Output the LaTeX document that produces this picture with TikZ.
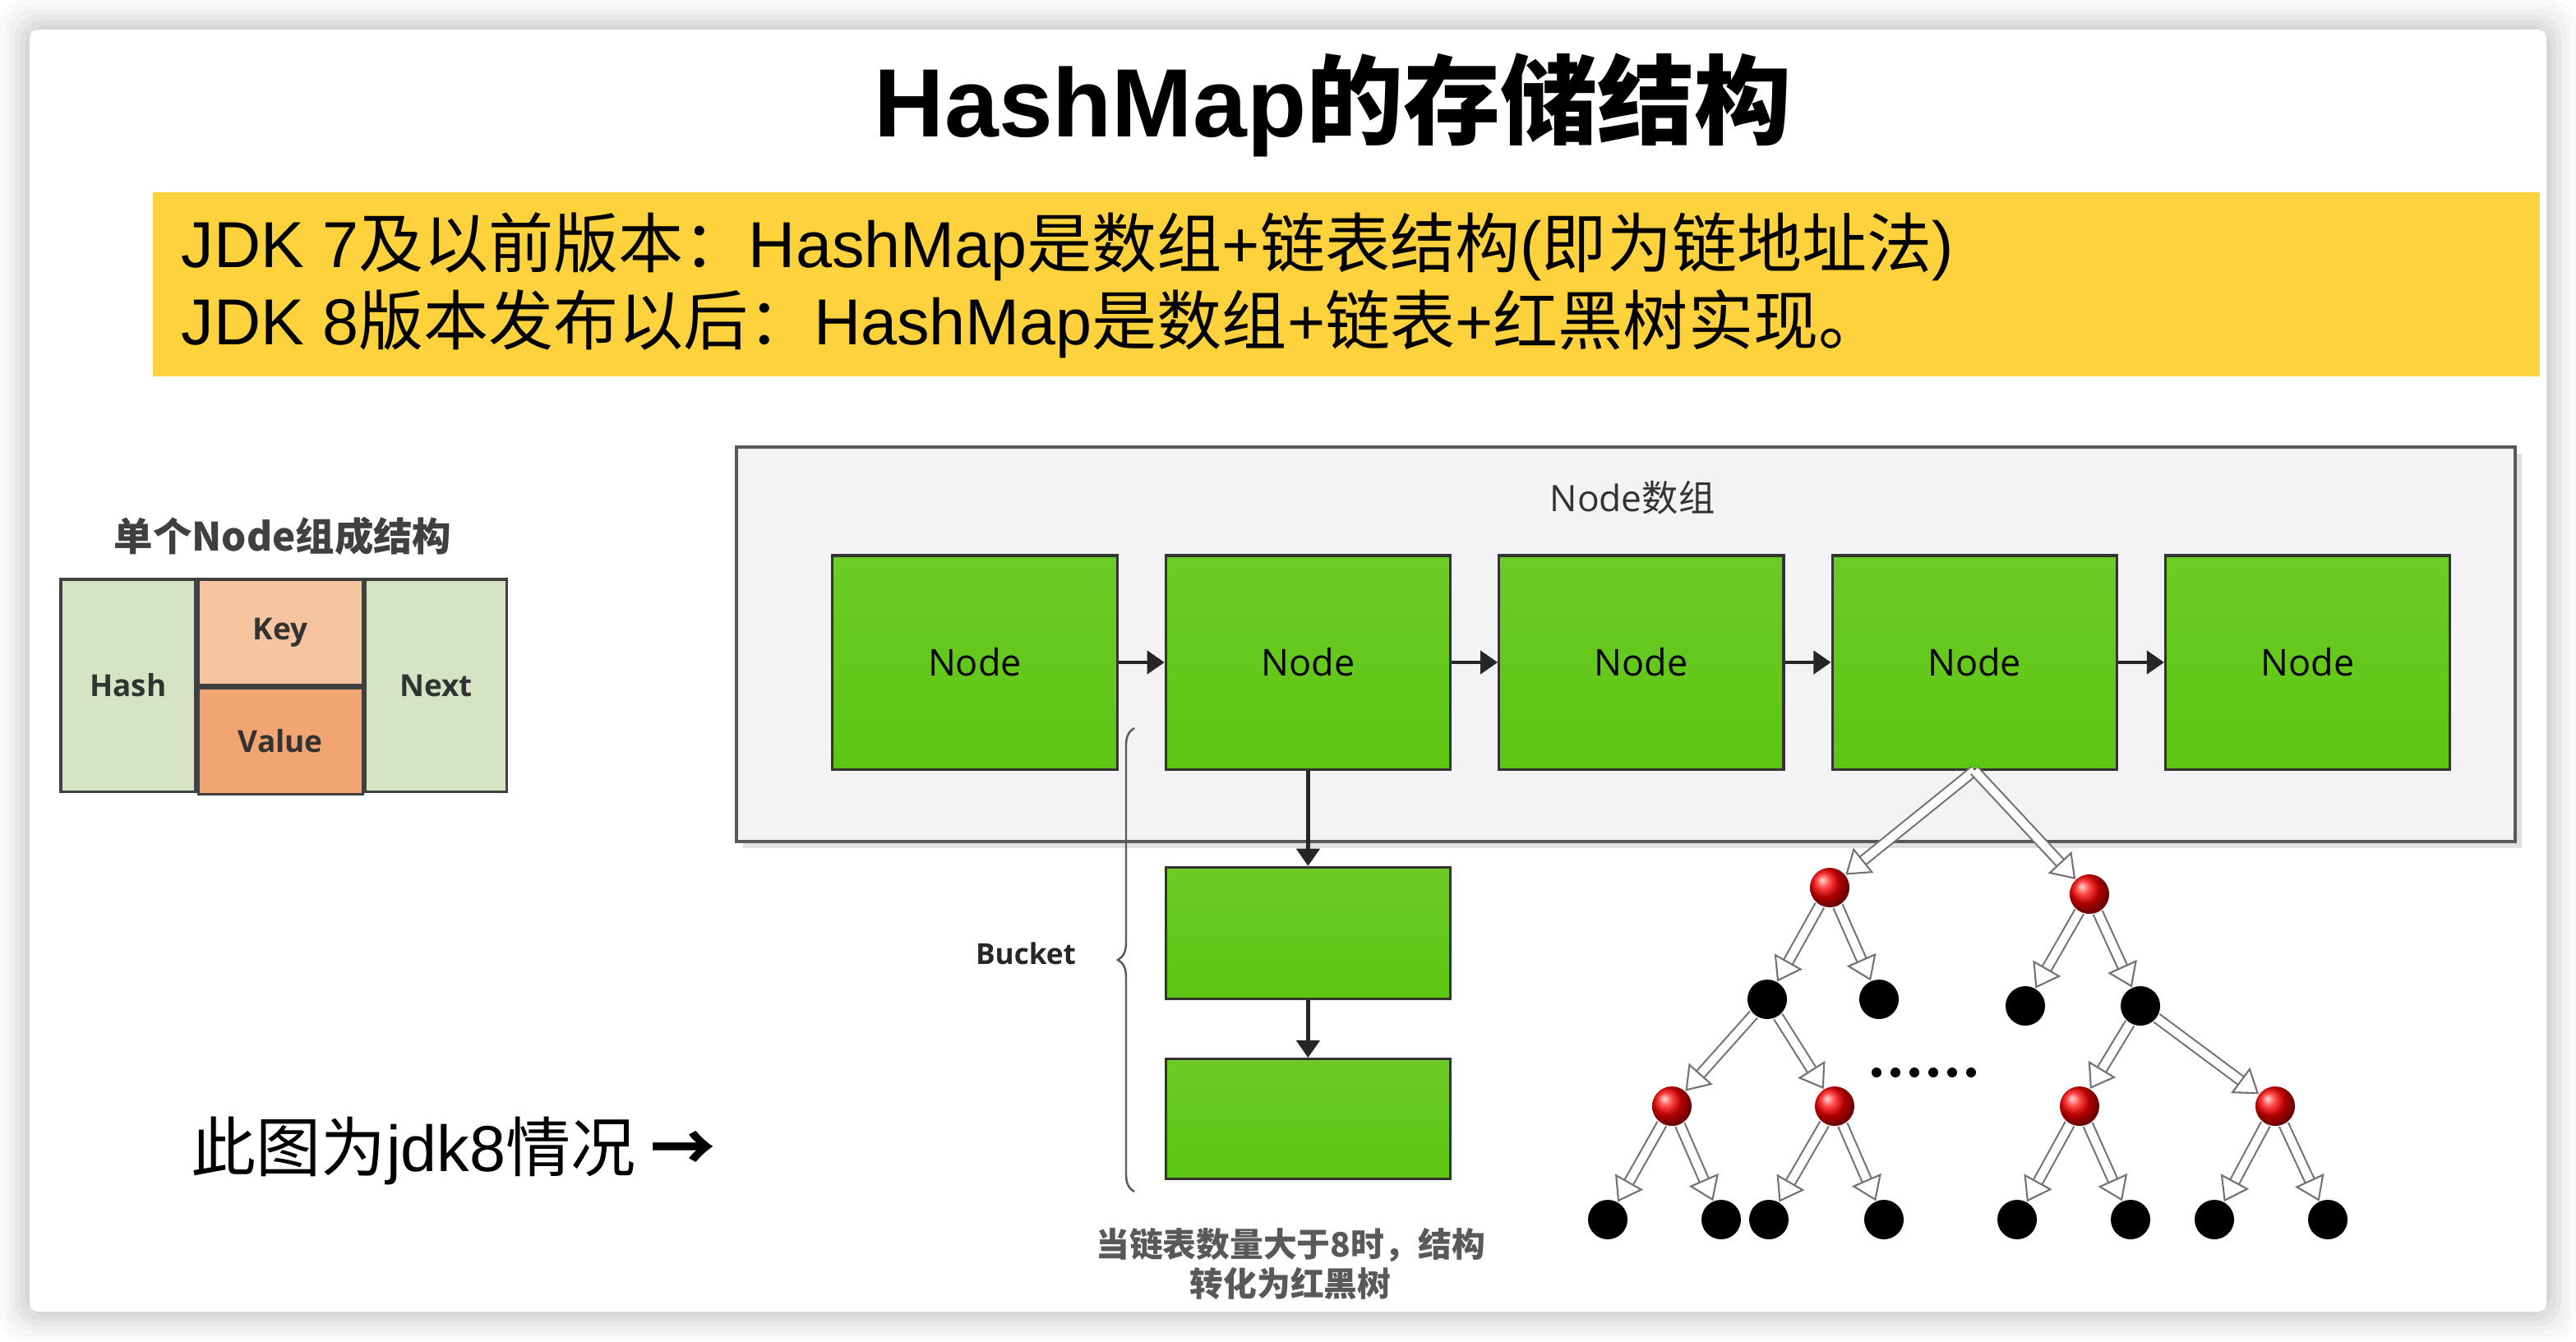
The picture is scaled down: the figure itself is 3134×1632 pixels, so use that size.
\documentclass[tikz,border=0pt]{standalone}
\usepackage{fontspec}
\setmainfont{Liberation Sans}
\newfontfamily\cjk{Noto Sans CJK SC}
\newfontfamily\lbl{Open Sans}
\usetikzlibrary{positioning,arrows.meta,decorations.pathreplacing,shadings}
\newcommand{\zhtxt}[1]{{\cjk #1}}
\definecolor{hmyellow}{HTML}{FDD23C}
\definecolor{hmgreen}{HTML}{5DC512}
\definecolor{hmgreentop}{HTML}{6CCB26}
\definecolor{hmsage}{HTML}{D6E3C5}
\definecolor{hmkey}{HTML}{F7C4A0}
\definecolor{hmvalue}{HTML}{F2A570}
\definecolor{hmframe}{HTML}{F3F3F5}

\begin{document}
\begin{tikzpicture}[x=0.01cm,y=-0.01cm,
    gnode/.style={draw=black!80,line width=0.9pt,top color=hmgreentop,bottom color=hmgreen,minimum width=3.46cm,minimum height=2.6cm,inner sep=0pt,font=\lbl\fontsize{12.8}{15}\selectfont},
    cell/.style={draw=black!75,line width=0.9pt,inner sep=0pt,text=black!80,font=\lbl\bfseries\fontsize{10.5}{12}\selectfont},
    link/.style={-{Triangle[length=6pt,width=8pt]},line width=1.2pt,draw=black!85},
    rnode/.style={circle,minimum size=0.48cm,inner sep=0pt,shading=ball,ball color=red},
    bnode/.style={circle,minimum size=0.48cm,inner sep=0pt,fill=black},
    rbarrow/.style={draw=black!55,line width=0.6pt,double=white,double distance=2.8pt,-{Triangle[open,length=8pt,width=11pt]}}]
  \useasboundingbox (0,0) rectangle (3134,1632);
  % card with its shadow
  \fill[white] (0,0) rectangle (3134,1632);
  \foreach \s/\c in {36/2,30/4,24/6,18/9,12/12,6/16}
    \fill[black!\c,rounded corners=0.3cm] (36-\s,36-\s) rectangle (3098+\s,1596+\s);
  \fill[white,rounded corners=0.1cm] (36,36) rectangle (3098,1596);

  % title and notes
  \node (title) at (1622,128) {\bfseries\fontsize{33.6}{40}\selectfont HashMap\zhtxt{的存储结构}};
  \fill[hmyellow] (186,234) rectangle (3090,458);
  \node[anchor=west,inner sep=0pt] (jdk7) at (220,300) {\fontsize{22.5}{27}\selectfont JDK 7\zhtxt{及以前版本：}HashMap\zhtxt{是数组}+\zhtxt{链表结构}(\zhtxt{即为链地址法})};
  \node[anchor=west,inner sep=0pt] (jdk8) at (220,394) {\fontsize{22.5}{27}\selectfont JDK 8\zhtxt{版本发布以后：}HashMap\zhtxt{是数组}+\zhtxt{链表}+\zhtxt{红黑树实现。}};

  % single node
  \node[text=black!75] (single) at (344,652) {\cjk\bfseries\fontsize{13.5}{16}\selectfont 单个Node组成结构};
  \node[cell,fill=hmsage,minimum width=1.64cm,minimum height=2.58cm] (hash) at (156,834) {Hash};
  \node[cell,fill=hmkey,minimum width=2.0cm,minimum height=1.29cm,anchor=north west] (key) at (hash.north east) {Key};
  \node[cell,fill=hmvalue,minimum width=2.0cm,minimum height=1.29cm,anchor=north west] (value) at (key.south west) {Value};
  \node[cell,fill=hmsage,minimum width=1.72cm,minimum height=2.58cm,anchor=north west] (next) at (key.north east) {Next};
  \node[anchor=west,inner sep=0pt] (jdk8pic) at (232,1400) {\cjk\fontsize{22.5}{27}\selectfont 此图为{\rmfamily jdk8}情况 {\bfseries →}};

  % node array
  \fill[black!12] (904,552) rectangle (3068,1032);
  \draw[draw=black!65,line width=0.9pt,fill=hmframe] (896,544) rectangle (3060,1024);
  \node[text=black!80] (arraylbl) at (1986,606) {\lbl\fontsize{12.6}{15}\selectfont Node\zhtxt{数组}};
  \node[gnode] (n1) at (1186,806) {Node};
  \node[gnode,right=0.56cm of n1] (n2) {Node};
  \node[gnode,right=0.56cm of n2] (n3) {Node};
  \node[gnode,right=0.56cm of n3] (n4) {Node};
  \node[gnode,right=0.56cm of n4] (n5) {Node};
  \draw[link] (n1) -- (n2);
  \draw[link] (n2) -- (n3);
  \draw[link] (n3) -- (n4);
  \draw[link] (n4) -- (n5);

  % bucket
  \node[gnode,minimum height=1.6cm,below=1.16cm of n2] (b1) {};
  \node[gnode,minimum height=1.46cm,below=0.7cm of b1] (b2) {};
  \draw[link] (n2) -- (b1);
  \draw[link] (b1) -- (b2);
  \draw[draw=black!65,line width=0.7pt,decorate,decoration={brace,amplitude=0.2cm}] (1380,1450) -- (1380,886);
  \node[text=black!85] (bucket) at (1248,1160) {\lbl\bfseries\fontsize{10}{12}\selectfont Bucket};
  \node[align=center,text=black!65,font=\cjk\bfseries\fontsize{11.6}{13.7}\selectfont] (note) at (1570,1538) {当链表数量大于8时，结构\\转化为红黑树};

  % red-black tree
  \node[rnode] (r1) at (2226,1080) {};
  \node[rnode] (r2) at (2542,1088) {};
  \node[bnode] (k1) at (2150,1216) {};
  \node[bnode] (k2) at (2286,1216) {};
  \node[bnode] (k3) at (2464,1224) {};
  \node[bnode] (k4) at (2604,1224) {};
  \node[rnode] (r3) at (2034,1346) {};
  \node[rnode] (r4) at (2232,1346) {};
  \node[rnode] (r5) at (2530,1346) {};
  \node[rnode] (r6) at (2768,1346) {};
  \foreach \x [count=\i] in {1956,2094,2152,2292,2454,2592,2694,2832}
    \node[bnode] (l\i) at (\x,1484) {};
  \draw[rbarrow] (n4.south) -- (r1);
  \draw[rbarrow] (n4.south) -- (r2);
  \foreach \a/\b in {r1/k1,r1/k2,r2/k3,r2/k4,k1/r3,k1/r4,k4/r5,k4/r6,r3/l1,r3/l2,r4/l3,r4/l4,r5/l5,r5/l6,r6/l7,r6/l8}
    \draw[rbarrow] (\a) -- (\b);
  \foreach \i in {0,...,5}
    \fill (2283+23*\i,1305) circle [radius=0.06cm];
\end{tikzpicture}
\end{document}
